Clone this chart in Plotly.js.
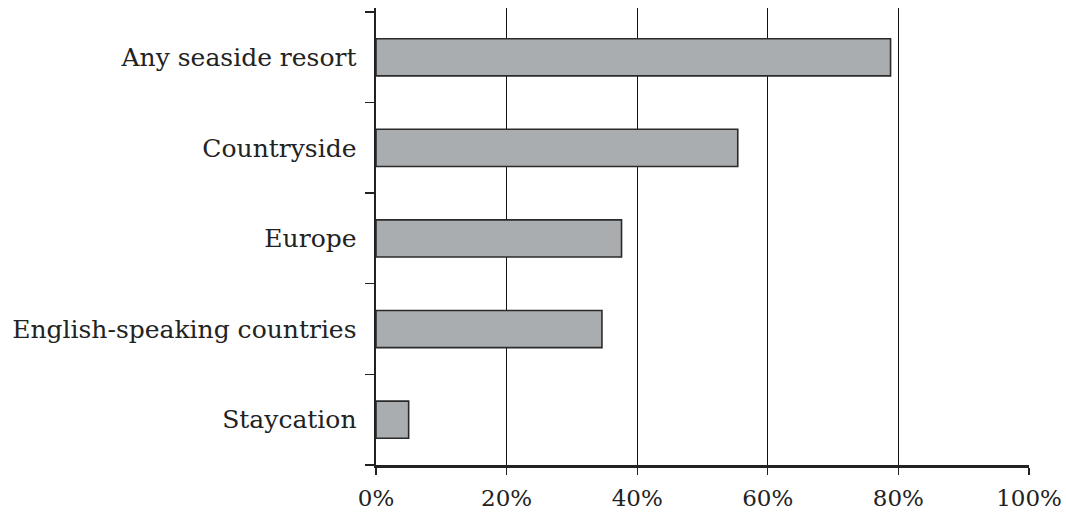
<!DOCTYPE html>
<html>
<head>
<meta charset="utf-8">
<script src="https://cdn.plot.ly/plotly-3.0.1.min.js"></script>
<style>html,body{margin:0;padding:0;background:#fff;}#chart{width:1066px;height:513px;}</style>
</head>
<body>
<div id="chart"></div>
<script>
// Categories listed bottom to top
const categories = ["Staycation", "English-speaking countries", "Europe", "Countryside", "Any seaside resort"];
const shares = [5.0, 34.6, 37.6, 55.4, 78.8];
const xTickValues = [0, 20, 40, 60, 80, 100];
const xTickLabels = ["0%", "20%", "40%", "60%", "80%", "100%"];

const trace = {
  type: "bar",
  orientation: "h",
  y: categories,
  x: shares,
  width: 0.41,
  marker: { color: "#aaadb0", line: { color: "#2a2a2a", width: 1.6 } },
  hoverinfo: "skip"
};

const layout = {
  width: 1066,
  height: 513,
  margin: { l: 376, r: 36.5, t: 8, b: 48 },
  paper_bgcolor: "#ffffff",
  plot_bgcolor: "#ffffff",
  showlegend: false,
  font: { family: "DejaVu Serif, serif", size: 24, color: "#222" },
  xaxis: {
    range: [0, 100],
    tickmode: "array",
    tickvals: xTickValues,
    ticktext: xTickLabels,
    showgrid: true,
    gridcolor: "#111",
    gridwidth: 1.4,
    zeroline: false,
    showline: true,
    linecolor: "#222",
    linewidth: 2.5,
    ticks: "outside",
    ticklen: 7,
    tickwidth: 1.4,
    tickcolor: "#222",
    ticklabelstandoff: 4,
    tickfont: { family: "DejaVu Serif, serif", size: 23, color: "#222" },
    fixedrange: true
  },
  yaxis: {
    type: "category",
    categoryorder: "array",
    categoryarray: categories,
    range: [-0.5, 4.544],
    showgrid: false,
    zeroline: false,
    showline: true,
    linecolor: "#222",
    linewidth: 2.5,
    ticks: "outside",
    tickson: "boundaries",
    ticklen: 9,
    tickwidth: 1.4,
    tickcolor: "#222",
    ticklabelstandoff: 12,
    tickfont: { family: "DejaVu Serif, serif", size: 25, color: "#222" },
    fixedrange: true
  }
};

Plotly.newPlot("chart", [trace], layout, { displayModeBar: false, staticPlot: true });
</script>
</body>
</html>
